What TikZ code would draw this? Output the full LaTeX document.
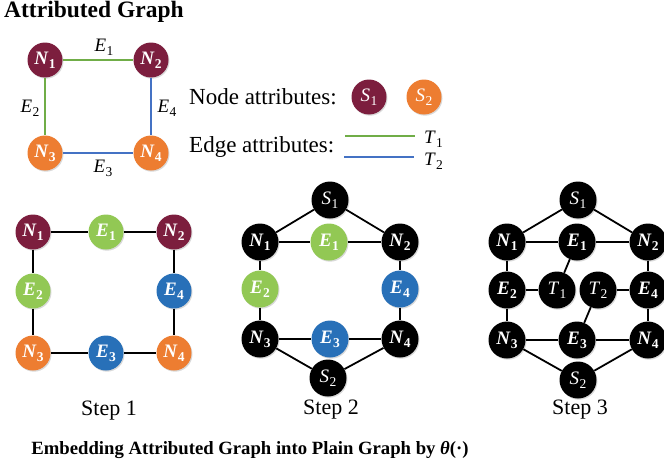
\documentclass[tikz,border=0pt]{standalone}
\usepackage{fontspec}
\setmainfont{Liberation Serif}
\usetikzlibrary{shadows}
\definecolor{maroon}{RGB}{124,30,62}
\definecolor{orng}{RGB}{237,125,49}
\definecolor{lgreen}{RGB}{146,200,84}
\definecolor{lineg}{RGB}{112,173,71}
\definecolor{nblue}{RGB}{40,112,184}
\definecolor{lineb}{RGB}{68,114,196}
\newcommand{\lbl}[2]{\textit{#1}\kern0.3pt\raisebox{-0.22em}{\fontsize{13.5}{13.5}\selectfont #2}}
\tikzset{
  gnode/.style={circle, minimum size=35pt, inner sep=0pt, text=white,
    font=\fontsize{19}{19}\selectfont\bfseries,
    drop shadow={shadow xshift=1pt, shadow yshift=-1.2pt, opacity=0.3}},
  bnode/.style={gnode, fill=black, minimum size=37pt},
  snode/.style={font=\fontsize{19}{19}\selectfont},
  ln/.style={line width=1.8pt},
  elab/.style={font=\fontsize{19}{19}\selectfont},
  steplab/.style={font=\fontsize{22}{22}\selectfont},
}
\begin{document}
\begin{tikzpicture}[x=1pt,y=-1pt]
\useasboundingbox (0,0) rectangle (664,471);
% title
\node[anchor=west, font=\fontsize{23.5}{23.5}\selectfont\bfseries, inner sep=0pt] (title) at (4,12) {Attributed Graph};
% top graph
\node[gnode, fill=maroon] (a1) at (45,60) {\lbl{N}{1}};
\node[gnode, fill=maroon] (a2) at (151,60) {\lbl{N}{2}};
\node[gnode, fill=orng] (a3) at (45,153) {\lbl{N}{3}};
\node[gnode, fill=orng] (a4) at (151,153) {\lbl{N}{4}};
\draw[ln, lineg] (a1) -- (a2);
\draw[ln, lineg] (a1) -- (a3);
\draw[ln, lineb] (a2) -- (a4);
\draw[ln, lineb] (a3) -- (a4);
\node[elab] (le1) at (104,47) {\lbl{E}{1}};
\node[elab] (le2) at (30,108) {\lbl{E}{2}};
\node[elab] (le4) at (167,108) {\lbl{E}{4}};
\node[elab] (le3) at (103,168) {\lbl{E}{3}};
% legend
\node[anchor=west, font=\fontsize{23}{23}\selectfont, inner sep=0pt] (na) at (189,97) {Node attributes:};
\node[gnode, snode, fill=maroon] (s1l) at (369,97) {\lbl{S}{1}};
\node[gnode, snode, fill=orng] (s2l) at (424,97) {\lbl{S}{2}};
\node[anchor=west, font=\fontsize{23}{23}\selectfont, inner sep=0pt] (ea) at (189,147) {Edge attributes:};
\coordinate (g1) at (345,136);
\coordinate (g2) at (415,136);
\coordinate (b1) at (344,157);
\coordinate (b2) at (414,157);
\draw[ln, lineg] (g1) -- (g2);
\draw[ln, lineb] (b1) -- (b2);
\node[elab, anchor=west, inner sep=0pt] (t1l) at (424,139) {\lbl{T}{1}};
\node[elab, anchor=west, inner sep=0pt] (t2l) at (424,161) {\lbl{T}{2}};
% step 1
\node[gnode, fill=maroon] (p1) at (33,232) {\lbl{N}{1}};
\node[gnode, fill=lgreen] (pe1) at (106,232) {\lbl{E}{1}};
\node[gnode, fill=maroon] (p2) at (174,232) {\lbl{N}{2}};
\node[gnode, fill=lgreen] (pe2) at (33,291) {\lbl{E}{2}};
\node[gnode, fill=nblue] (pe4) at (174,291) {\lbl{E}{4}};
\node[gnode, fill=orng] (p3) at (33,353) {\lbl{N}{3}};
\node[gnode, fill=nblue] (pe3) at (106,353) {\lbl{E}{3}};
\node[gnode, fill=orng] (p4) at (174,353) {\lbl{N}{4}};
\draw[ln] (p1) -- (pe1) -- (p2);
\draw[ln] (p1) -- (pe2) -- (p3);
\draw[ln] (p2) -- (pe4) -- (p4);
\draw[ln] (p3) -- (pe3) -- (p4);
\node[steplab] (st1) at (109,411) {Step 1};
% step 2
\node[bnode, snode] (q0) at (330,200) {\lbl{S}{1}};
\node[bnode] (q1) at (260,242) {\lbl{N}{1}};
\node[gnode, fill=lgreen, minimum size=37pt] (qe1) at (329,242) {\lbl{E}{1}};
\node[bnode] (q2) at (400,242) {\lbl{N}{2}};
\node[gnode, fill=lgreen, minimum size=37pt] (qe2) at (260,289) {\lbl{E}{2}};
\node[gnode, fill=nblue, minimum size=37pt] (qe4) at (400,289) {\lbl{E}{4}};
\node[bnode] (q3) at (260,339) {\lbl{N}{3}};
\node[gnode, fill=nblue, minimum size=37pt] (qe3) at (330,339) {\lbl{E}{3}};
\node[bnode] (q4) at (400,339) {\lbl{N}{4}};
\node[bnode, snode] (q5) at (328,378) {\lbl{S}{2}};
\draw[ln] (q0) -- (q1);
\draw[ln] (q0) -- (q2);
\draw[ln] (q1) -- (qe1) -- (q2);
\draw[ln] (q1) -- (qe2) -- (q3);
\draw[ln] (q2) -- (qe4) -- (q4);
\draw[ln] (q3) -- (qe3) -- (q4);
\draw[ln] (q3) -- (q5);
\draw[ln] (q4) -- (q5);
\node[steplab] (st2) at (331,410) {Step 2};
% step 3
\node[bnode, snode] (r0) at (578,200) {\lbl{S}{1}};
\node[bnode] (r1) at (507,242) {\lbl{N}{1}};
\node[bnode] (re1) at (577,242) {\lbl{E}{1}};
\node[bnode] (r2) at (648,242) {\lbl{N}{2}};
\node[bnode] (re2) at (507,290) {\lbl{E}{2}};
\node[bnode, snode] (rt1) at (557,290) {\lbl{T}{1}};
\node[bnode, snode] (rt2) at (598,290) {\lbl{T}{2}};
\node[bnode] (re4) at (648,290) {\lbl{E}{4}};
\node[bnode] (r3) at (507,340) {\lbl{N}{3}};
\node[bnode] (re3) at (577,340) {\lbl{E}{3}};
\node[bnode] (r4) at (648,340) {\lbl{N}{4}};
\node[bnode, snode] (r5) at (578,380) {\lbl{S}{2}};
\draw[ln] (r0) -- (r1);
\draw[ln] (r0) -- (r2);
\draw[ln] (r1) -- (re1) -- (r2);
\draw[ln] (r1) -- (re2) -- (r3);
\draw[ln] (r2) -- (re4) -- (r4);
\draw[ln] (r3) -- (re3) -- (r4);
\draw[ln] (re2) -- (rt1);
\draw[ln] (re1) -- (rt1);
\draw[ln] (rt2) -- (re4);
\draw[ln] (rt2) -- (re3);
\draw[ln] (r3) -- (r5);
\draw[ln] (r4) -- (r5);
\node[steplab] (st3) at (580,410) {Step 3};
% caption
\node[font=\fontsize{18.7}{18.7}\selectfont\bfseries] (cap) at (250,450) {Embedding Attributed Graph into Plain Graph by \textit{θ}(·)};
\end{tikzpicture}
\end{document}
